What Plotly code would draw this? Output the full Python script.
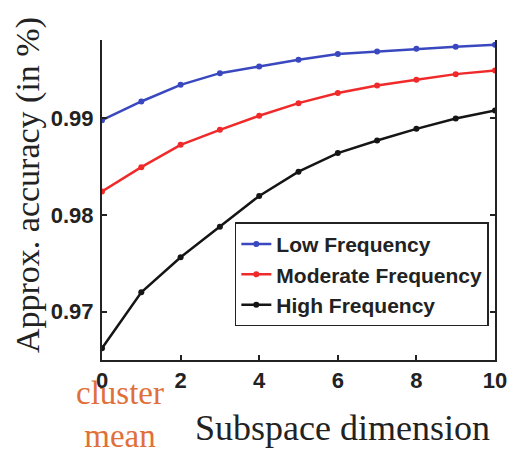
import plotly.graph_objects as go

dims = [0, 1, 2, 3, 4, 5, 6, 7, 8, 9, 10]
low_freq = [0.9898, 0.99174, 0.99346, 0.99467, 0.99536, 0.99605, 0.99664, 0.99691, 0.99719, 0.99739, 0.9976]
moderate_freq = [0.98243, 0.98495, 0.98726, 0.98881, 0.99026, 0.99157, 0.99261, 0.99339, 0.99398, 0.99457, 0.99494]
high_freq = [0.96622, 0.97200, 0.97563, 0.97879, 0.98197, 0.98448, 0.98640, 0.98770, 0.98891, 0.98998, 0.99081]
series_names = ["Low Frequency", "Moderate Frequency", "High Frequency"]
series_colors = ["#3a48c0", "#f02a2a", "#151515"]
x_ticks = [0, 2, 4, 6, 8, 10]
y_ticks = [0.97, 0.98, 0.99]
y_tick_labels = ["0.97", "0.98", "0.99"]

SANS = "Liberation Sans, Arial, sans-serif"
SERIF = "Liberation Serif, Times New Roman, serif"

fig = go.Figure()
for name, vals, col in zip(series_names, [low_freq, moderate_freq, high_freq], series_colors):
    fig.add_trace(go.Scatter(
        x=dims, y=vals, name=name, mode="lines+markers",
        line=dict(color=col, width=2.5),
        marker=dict(color=col, size=6),
    ))

fig.update_layout(
    width=519, height=460,
    margin=dict(l=102, r=19, t=40, b=100),
    paper_bgcolor="white", plot_bgcolor="white",
    showlegend=True,
    legend=dict(
        x=0.338, y=0.43, xanchor="left", yanchor="top",
        bordercolor="#222", borderwidth=1.5, bgcolor="white",
        font=dict(family=SANS, size=21, color="#222", weight="bold"),
        tracegroupgap=0, itemwidth=30,
    ),
    xaxis=dict(
        range=[0, 10], tickvals=x_ticks, ticks="inside", ticklen=5,
        tickcolor="#222", tickwidth=1.5,
        showline=True, linecolor="#222", linewidth=2, mirror=False,
        showgrid=False, zeroline=False,
        tickfont=dict(family=SANS, size=22, color="#222", weight="bold"),
    ),
    yaxis=dict(
        range=[0.965, 0.9981], tickvals=y_ticks, ticktext=y_tick_labels,
        ticks="inside", ticklen=5, tickcolor="#222", tickwidth=1.5,
        showline=True, linecolor="#222", linewidth=2, mirror="ticks",
        showgrid=False, zeroline=False, ticklabelstandoff=2,
        tickfont=dict(family=SANS, size=22, color="#222", weight="bold"),
    ),
)

fig.add_annotation(
    text="Approx. accuracy (in %)", textangle=-90,
    xref="paper", yref="paper", x=-0.188, y=0.547,
    xanchor="center", yanchor="middle", showarrow=False,
    font=dict(family=SERIF, size=34, color="#222"),
)
fig.add_annotation(
    text="Subspace dimension",
    xref="paper", yref="paper", x=0.613, y=-0.143,
    xanchor="center", yanchor="top", showarrow=False,
    font=dict(family=SERIF, size=36, color="#222"),
)
fig.add_annotation(
    text="cluster<br>mean",
    xref="paper", yref="paper", x=0.045, y=-0.04,
    xanchor="center", yanchor="top", showarrow=False,
    font=dict(family=SERIF, size=33, color="#e0703a"),
)

fig.write_html("out.html")
